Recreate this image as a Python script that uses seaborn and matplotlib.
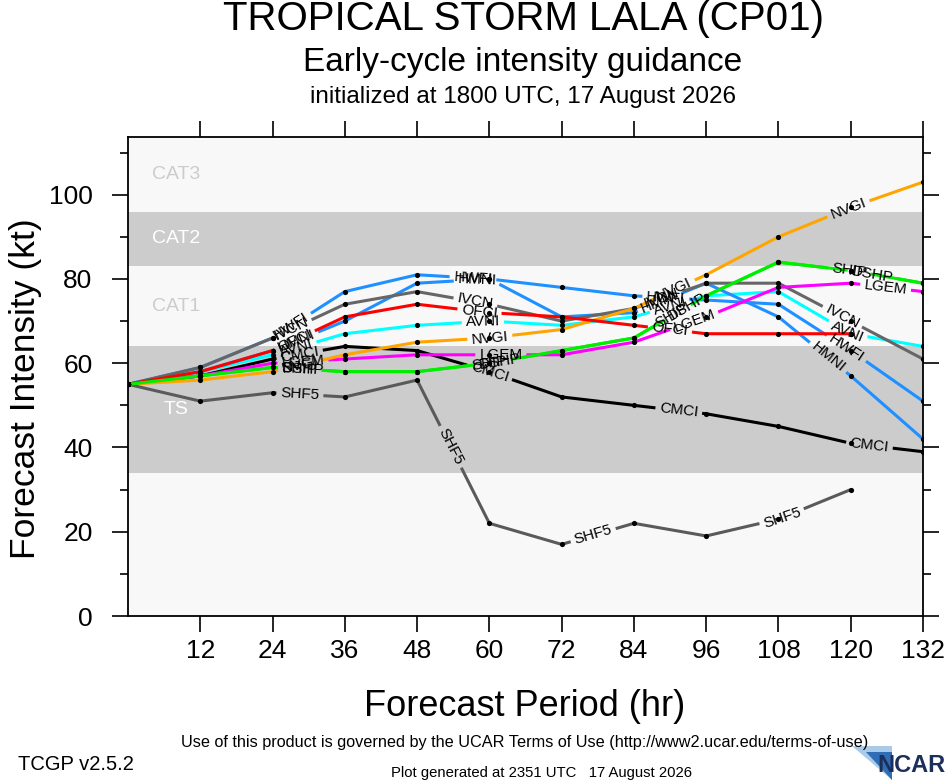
import numpy as np
import pandas as pd
import matplotlib
matplotlib.use("Agg")
import matplotlib.pyplot as plt
from matplotlib.patches import Polygon
import seaborn as sns

# forecast hours
hours = [0, 12, 24, 36, 48, 60, 72, 84, 96, 108, 120, 132]

# intensity guidance (kt)
avni = [55, 58, 62, 67, 69, 70, 69, 71, 76, 77, 67, 64]
cmci = [55, 57, 61, 64, 63, 58, 52, 50, 48, 45, 41, 39]
dshp = [55, 57, 59, 58, 58, 60, 63, 66, 76, 84, 82, 79]
hmni = [55, 58, 63, 70, 79, 80, 71, 72, 79, 71, 57, 42]
hwfi = [55, 59, 66, 77, 81, 80, 78, 76, 75, 74, 63, 51]
ivcn = [55, 59, 66, 74, 77, 74, 70, 73, 79, 79, 70, 61]
lgem = [55, 57, 60, 61, 62, 62, 62, 65, 71, 78, 79, 77]
nvgi = [55, 56, 58, 62, 65, 66, 68, 73, 81, 90, 97, 103]
ofci = [55, 58, 63, 71, 74, 72, 71, 69, 67, 67, 67]
shf5 = [55, 51, 53, 52, 56, 22, 17, 22, 19, 23, 30]
ship = [55, 57, 59, 58, 58, 60, 63, 66, 76, 84, 82, 79]

models = ["AVNI", "CMCI", "DSHP", "HMNI", "HWFI", "IVCN", "LGEM", "NVGI", "OFCI", "SHF5", "SHIP"]
series = {"AVNI": avni, "CMCI": cmci, "DSHP": dshp, "HMNI": hmni, "HWFI": hwfi, "IVCN": ivcn,
          "LGEM": lgem, "NVGI": nvgi, "OFCI": ofci, "SHF5": shf5, "SHIP": ship}
colors = {"AVNI": "#00ffff", "CMCI": "#000000", "DSHP": "#00ee00", "HMNI": "#1e90ff",
          "HWFI": "#1e90ff", "IVCN": "#666666", "LGEM": "#ff00ff", "NVGI": "#ffa500",
          "OFCI": "#ff0000", "SHF5": "#5a5a5a", "SHIP": "#00ee00"}

# saffir-simpson bands
band_edges = [0, 34, 64, 83, 96, 113.7]
band_names = ["", "TS", "CAT1", "CAT2", "CAT3"]
band_fill = ["#f8f8f8", "#cccccc", "#f8f8f8", "#cccccc", "#f8f8f8"]
band_text = ["#cccccc", "#ffffff", "#cccccc", "#ffffff", "#cccccc"]

xticks = [12, 24, 36, 48, 60, 72, 84, 96, 108, 120, 132]
yticks = [0, 20, 40, 60, 80, 100]
yminor = [10, 30, 50, 70, 90, 110]

sns.set_style("ticks")
plt.rcParams["font.family"] = ["Liberation Sans", "DejaVu Sans"]
plt.rcParams["text.color"] = "black"
plt.rcParams["xtick.color"] = "black"
plt.rcParams["ytick.color"] = "black"

fig = plt.figure(figsize=(9.46, 7.80), dpi=100)
ax = fig.add_axes([128 / 946, 1 - 616 / 780, 795 / 946, 479 / 780])
ax.set_xlim(0, 132)
ax.set_ylim(0, band_edges[-1])

for i in range(len(band_fill)):
    ax.axhspan(band_edges[i], band_edges[i + 1], color=band_fill[i], lw=0, zorder=0)
    if band_names[i]:
        ax.text(8, (band_edges[i] + band_edges[i + 1]) / 2, band_names[i], color=band_text[i],
                fontsize=14, ha="center", va="center", zorder=1)

# lines broken where the labels sit (labels spaced along the curve length)
lab_size = 11
rend = fig.canvas.get_renderer()
to_px = ax.transData
to_dat = ax.transData.inverted()
base = 155
rows = []
labels = []
for m in models:
    vals = series[m]
    h = hours[:len(vals)]
    pts = to_px.transform(np.column_stack([h, vals]))
    seg = np.hypot(*np.diff(pts, axis=0).T)
    cum = np.concatenate([[0], np.cumsum(seg)])
    t = ax.text(0, 0, m, fontsize=lab_size)
    w = t.get_window_extent(rend).width
    t.remove()

    def at(s):
        i = min(max(np.searchsorted(cum, s, side="right") - 1, 0), len(seg) - 1)
        f = (s - cum[i]) / seg[i]
        return pts[i] + f * (pts[i + 1] - pts[i])

    centers = []
    k = 0
    while True:
        c = (k + 1) * (base + w) - w / 2
        if c + w / 2 > cum[-1]:
            break
        centers.append(c)
        k += 1
    half = w / 2 + 4
    cuts = [0.0]
    for c in centers:
        cuts += [c - half, c + half]
    cuts.append(cum[-1])
    for j in range(0, len(cuts), 2):
        a, b = cuts[j], cuts[j + 1]
        inner = [pts[i] for i in range(len(pts)) if a < cum[i] < b]
        piece = to_dat.transform(np.array([at(a)] + inner + [at(b)]))
        for x, y in piece:
            rows.append((m, f"{m}_{j}", x, y))
    for c in centers:
        p0, p1 = at(c - w / 2), at(c + w / 2)
        ang = np.degrees(np.arctan2(p1[1] - p0[1], p1[0] - p0[0]))
        xc, yc = to_dat.transform(at(c))
        labels.append((m, xc, yc, ang))

df_lines = pd.DataFrame(rows, columns=["model", "piece", "hour", "kt"])
sns.lineplot(data=df_lines, x="hour", y="kt", hue="model", units="piece", estimator=None,
             sort=False, palette=colors, hue_order=models, legend=False, lw=2.2,
             solid_capstyle="butt", ax=ax, zorder=2)

df_pts = pd.DataFrame([(m, hh, v) for m in models for hh, v in zip(hours, series[m])],
                      columns=["model", "hour", "kt"])
sns.scatterplot(data=df_pts, x="hour", y="kt", color="black", s=14, linewidth=0,
                legend=False, ax=ax, zorder=3)

for m, xc, yc, ang in labels:
    ax.text(xc, yc, m, fontsize=lab_size, rotation=ang, rotation_mode="anchor",
            ha="center", va="center", color="black", zorder=4)

ax.set_xticks(xticks)
ax.set_yticks(yticks)
ax.set_yticks(yminor, minor=True)
ax.set_xlabel("")
ax.set_ylabel("")
ax.tick_params(which="both", direction="out", top=True, right=True, width=1.2, colors="black")
ax.tick_params(which="major", length=11.5, labelsize=19)
ax.tick_params(which="minor", length=5.8)
ax.tick_params(axis="y", pad=14)
ax.tick_params(axis="x", pad=5)
for sp in ax.spines.values():
    sp.set_visible(True)
    sp.set_linewidth(1.3)
    sp.set_color("black")

# titles and captions
fig.text(523 / 946, 1 - 19 / 780, "TROPICAL STORM LALA (CP01)", fontsize=29, ha="center", va="center")
fig.text(523 / 946, 1 - 62 / 780, "Early-cycle intensity guidance", fontsize=24, ha="center", va="center")
fig.text(523 / 946, 1 - 97 / 780, "initialized at 1800 UTC, 17 August 2026", fontsize=17.5,
         ha="center", va="center")
fig.text(26 / 946, 1 - 389 / 780, "Forecast Intensity (kt)", fontsize=25.5, rotation=90,
         ha="center", va="center")
fig.text(525 / 946, 1 - 707 / 780, "Forecast Period (hr)", fontsize=26, ha="center", va="center")
fig.text(525 / 946, 1 - 742 / 780,
         "Use of this product is governed by the UCAR Terms of Use (http://www2.ucar.edu/terms-of-use)",
         fontsize=11.7, ha="center", va="center")
fig.text(18 / 946, 1 - 764 / 780, "TCGP v2.5.2", fontsize=14.5, ha="left", va="center")
fig.text(541 / 946, 1 - 773 / 780, "Plot generated at 2351 UTC   17 August 2026", fontsize=10.7,
         ha="center", va="center")

# NCAR mark
fig.patches.append(Polygon([(852 / 946, 1 - 746 / 780), (892 / 946, 1 - 746 / 780),
                            (892 / 946, 1 - 780 / 780)], closed=True, transform=fig.transFigure,
                           facecolor="#a9cbe9", edgecolor="none"))
fig.patches.append(Polygon([(866 / 946, 1 - 752 / 780), (892 / 946, 1 - 752 / 780),
                            (892 / 946, 1 - 780 / 780)], closed=True, transform=fig.transFigure,
                           facecolor="#2f6db5", edgecolor="none"))
fig.text(945 / 946, 1 - 765 / 780, "NCAR", fontsize=17, fontweight="bold", color="#1c2f5a",
         ha="right", va="center")

fig.savefig("out.png", dpi=100)
plt.close(fig)
